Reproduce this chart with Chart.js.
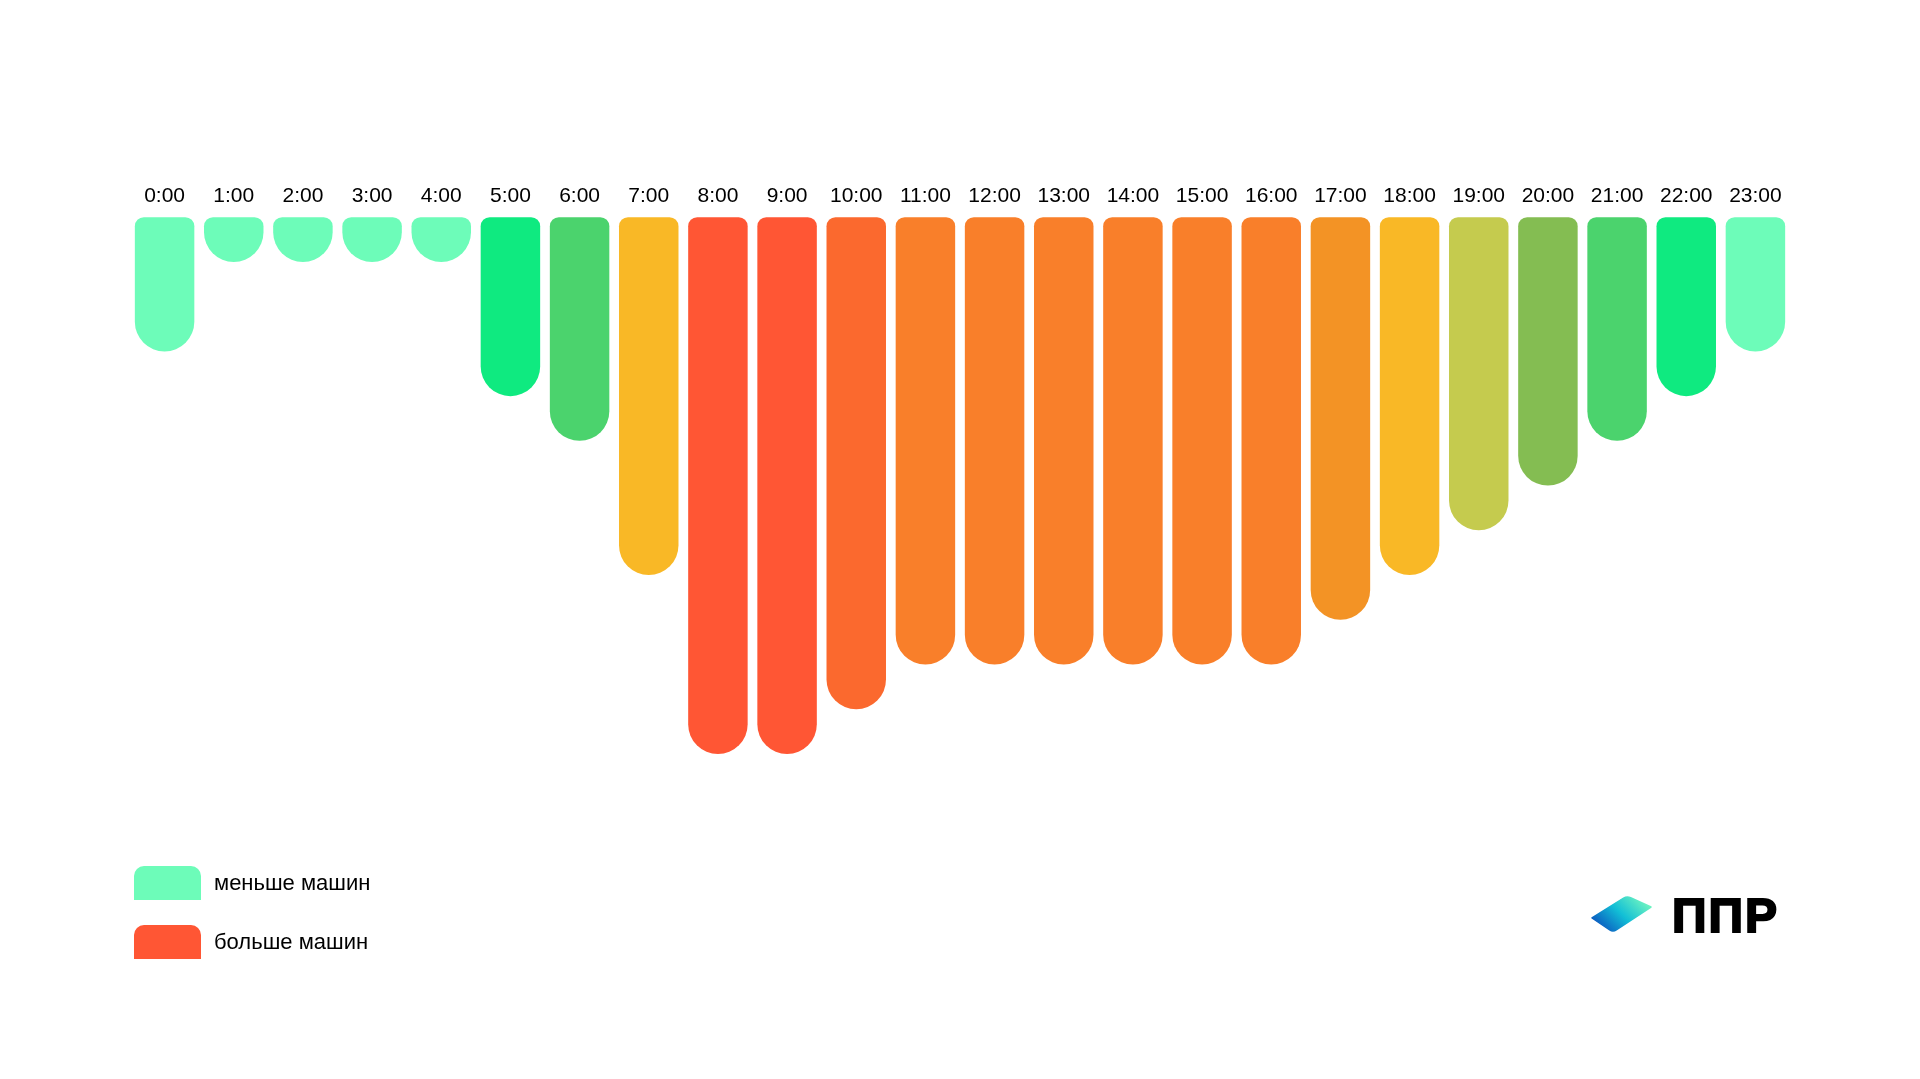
<!DOCTYPE html>
<html lang="ru">
<head>
<meta charset="utf-8">
<title>Загруженность по часам</title>
<script src="https://cdn.jsdelivr.net/npm/chart.js@4/dist/chart.umd.min.js"></script>
<style>
  html, body { margin: 0; padding: 0; background: #fff; }
  body { width: 1920px; height: 1079px; position: relative; overflow: hidden; font-family: 'Liberation Sans', Arial, sans-serif; }
  #wrap { position: absolute; left: 0; top: 0; width: 1920px; height: 1079px; }
  .legend-item { position: absolute; left: 134px; display: flex; align-items: center; }
  .legend-swatch { width: 67px; height: 34px; border-radius: 10px 10px 0 0; }
  .legend-text { margin-left: 13px; font-size: 22px; color: #000; }
  #logoMark { position: absolute; left: 1588px; top: 890px; }
  #logoText {
    position: absolute; left: 1672px; top: 892px;
    font: bold 48px/48px 'Liberation Sans', Arial, sans-serif; color: #000;
    letter-spacing: 2px; -webkit-text-stroke: 2px #000;
  }
</style>
</head>
<body>
<div id="wrap"><canvas id="trafficChart" width="1920" height="1079"></canvas></div>

<div class="legend-item" style="top:866px"><div class="legend-swatch" style="background:#6dfcb9"></div><div class="legend-text">меньше машин</div></div>
<div class="legend-item" style="top:925px"><div class="legend-swatch" style="background:#ff5634"></div><div class="legend-text">больше машин</div></div>

<svg id="logoMark" width="68" height="48" viewBox="0 0 68 48">
  <defs>
    <linearGradient id="logoGrad" x1="0" y1="0.8" x2="1" y2="0.2">
      <stop offset="0" stop-color="#0a4fbe"/>
      <stop offset="0.5" stop-color="#12bfd6"/>
      <stop offset="1" stop-color="#74f7bf"/>
    </linearGradient>
  </defs>
  <path d="M4 28 L35.6 8.1 Q39 6 42.6 7.7 L63 17 L28.3 39.8 Q25 42 21.7 39.8 Z"
        fill="url(#logoGrad)" stroke="url(#logoGrad)" stroke-width="1.5" stroke-linejoin="round"/>
</svg>
<div id="logoText">ППР</div>

<script>
// hours of the day, left to right
const hourLabels = [
  '0:00', '1:00', '2:00', '3:00', '4:00', '5:00', '6:00', '7:00', '8:00', '9:00', '10:00', '11:00',
  '12:00', '13:00', '14:00', '15:00', '16:00', '17:00', '18:00', '19:00', '20:00', '21:00', '22:00', '23:00',
];

// relative number of cars per hour (1 = fewest, 12 = most)
const trafficLevels = [3, 1, 1, 1, 1, 4, 5, 8, 12, 12, 11, 10, 10, 10, 10, 10, 10, 9, 8, 7, 6, 5, 4, 3];

// one colour per hour, mint -> green -> yellow -> orange -> red
const barColors = [
  '#6dfcb9', '#6dfcb9', '#6dfcb9', '#6dfcb9', '#6dfcb9', '#0fea80', '#4bd36d', '#f9b826',
  '#ff5634', '#ff5634', '#fb692e', '#f97f2a', '#f97f2a', '#f97f2a', '#f97f2a', '#f97f2a',
  '#f97f2a', '#f39325', '#f9b826', '#c5cb4e', '#84bd52', '#4bd36d', '#0fea80', '#6dfcb9',
];

const levelMax = 12;

// Chart.js caps every corner radius at half the bar height, which turns the
// one-level bars into flat pills. Paint the same elements (positions come from
// the bar controller / scales) with a small radius at the axis and a full
// half-circle at the end instead.
const roundedEndBars = {
  id: 'roundedEndBars',
  beforeDatasetDraw(chart, args) {
    const { ctx } = chart;
    args.meta.data.forEach((bar) => {
      const { x, y, base, width } = bar.getProps(['x', 'y', 'base', 'width'], true);
      const top = Math.min(y, base);
      const height = Math.abs(base - y);
      const endRadius = width / 2;
      ctx.save();
      ctx.fillStyle = bar.options.backgroundColor;
      ctx.beginPath();
      ctx.roundRect(x - width / 2, top, width, height, [9, 9, endRadius, endRadius]);
      ctx.fill();
      ctx.restore();
    });
    return false;
  },
};

const ctx = document.getElementById('trafficChart').getContext('2d');

new Chart(ctx, {
  type: 'bar',
  data: {
    labels: hourLabels,
    datasets: [
      {
        label: 'Машины',
        data: trafficLevels,
        backgroundColor: barColors,
        borderWidth: 0,
        barPercentage: 0.86,
        categoryPercentage: 1,
      },
    ],
  },
  options: {
    responsive: false,
    animation: false,
    events: [],
    layout: { padding: { left: 130, right: 130, top: 176, bottom: 325 } },
    plugins: {
      legend: { display: false },
      tooltip: { enabled: false },
    },
    scales: {
      x: {
        position: 'top',
        grid: { display: false, drawTicks: false },
        border: { display: false },
        ticks: {
          color: '#000',
          padding: 8,
          maxRotation: 0,
          autoSkip: false,
          font: { family: "'Liberation Sans', Arial, sans-serif", size: 21 },
        },
      },
      y: {
        display: false,
        reverse: true,
        min: 0,
        max: levelMax,
      },
    },
  },
  plugins: [roundedEndBars],
});
</script>
</body>
</html>
